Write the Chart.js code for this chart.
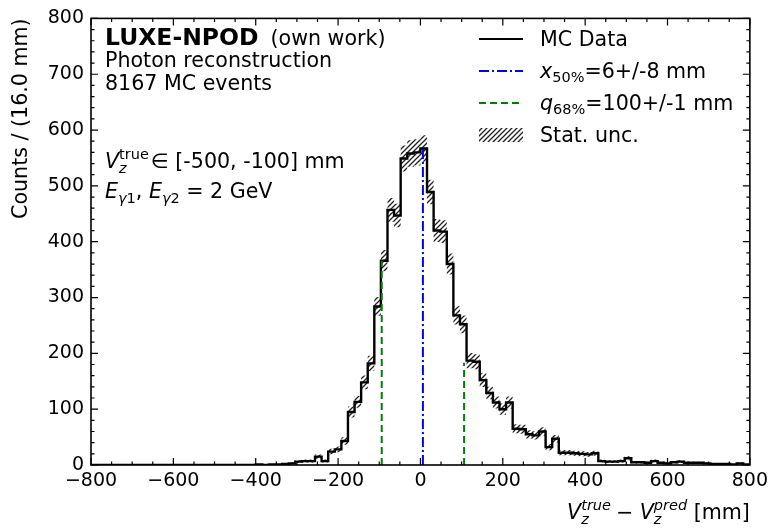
<!DOCTYPE html>
<html>
<head>
<meta charset="utf-8">
<script src="https://cdn.jsdelivr.net/npm/chart.js@4.4.1/dist/chart.umd.min.js"></script>
<style>
  html, body { margin: 0; padding: 0; background: #fff; }
  #wrap { width: 773px; height: 531px; position: relative; }
</style>
</head>
<body>
<div id="wrap"><canvas id="c"></canvas></div>
<script>
// ---------------- data ----------------
const binWidth = 16;          // mm
const xRange = [-800, 800];
const yRange = [0, 800];
const xTickValues = [-800, -600, -400, -200, 0, 200, 400, 600, 800];
const yTickValues = [0, 100, 200, 300, 400, 500, 600, 700, 800];
// counts per 16 mm bin, from -800 mm to +800 mm (100 bins)
const counts = [
  0,0,0,0,0,0,0,0,0,0,
  0,0,0,0,0,0,0,0,0,0,
  0,0,0,0,0,1,0,1,1,2,
  3,6,7,7,15,7,24,28,43,95,
  113,148,182,284,366,457,447,549,558,560,
  567,489,420,418,360,268,252,187,185,152,
  129,112,100,112,65,64,55,53,60,32,
  47,22,22,21,20,19,21,7,6,6,
  7,12,5,5,4,7,4,3,5,6,
  4,4,4,3,2,2,2,1,3,1
];
const x50 = 6;            // median
const x50Height = 567;
const q68Lo = -94, q68LoHeight = 366;
const q68Hi = 106, q68HiHeight = 183;
const legendLabels = ["MC Data", "=6+/-8 mm", "=100+/-1 mm", "Stat. unc."];

// ---------------- build ----------------
const nb = counts.length;
const edges = [];
for (let i = 0; i <= nb; i++) edges.push(xRange[0] + binWidth * i);
const histPts = [{x: edges[0], y: 0}];
const upPts = [], loPts = [];
for (let i = 0; i < nb; i++) {
  histPts.push({x: edges[i], y: counts[i]});
  const e = Math.sqrt(counts[i]);
  upPts.push({x: edges[i], y: counts[i] + e});
  loPts.push({x: edges[i], y: counts[i] - e});
}
histPts.push({x: edges[nb], y: counts[nb-1]});
histPts.push({x: edges[nb], y: 0});
upPts.push({x: edges[nb], y: counts[nb-1] + Math.sqrt(counts[nb-1])});
loPts.push({x: edges[nb], y: counts[nb-1] - Math.sqrt(counts[nb-1])});

function makeHatch(color) {
  const s = 5;
  const c = document.createElement('canvas');
  c.width = s; c.height = s;
  const g = c.getContext('2d');
  g.strokeStyle = color; g.lineWidth = 1.3; g.lineCap = 'square';
  g.beginPath();
  g.moveTo(0, s); g.lineTo(s, 0);
  g.moveTo(-1, 1); g.lineTo(1, -1);
  g.moveTo(s - 1, s + 1); g.lineTo(s + 1, s - 1);
  g.stroke();
  return g.createPattern(c, 'repeat');
}
const hatch = makeHatch('#222');

const FONT = '"DejaVu Sans", "Liberation Sans", sans-serif';

function richWidth(ctx, parts) {
  let w = 0;
  for (const p of parts) {
    if (p.stack) {
      ctx.font = p.stack[0].font; const a = ctx.measureText(p.stack[0].t).width;
      ctx.font = p.stack[1].font; const b = ctx.measureText(p.stack[1].t).width;
      w += Math.max(a, b) + (p.pad || 0);
    } else {
      ctx.font = p.font; w += ctx.measureText(p.t).width + (p.pad || 0) + (p.pre || 0);
    }
  }
  return w;
}
function drawRich(ctx, x, y, parts) {
  ctx.textBaseline = 'alphabetic'; ctx.textAlign = 'left';
  for (const p of parts) {
    if (p.stack) {
      let mw = 0;
      for (const s of p.stack) {
        ctx.font = s.font; ctx.fillText(s.t, x, y + s.dy);
        mw = Math.max(mw, ctx.measureText(s.t).width);
      }
      x += mw + (p.pad || 0);
    } else {
      ctx.font = p.font; ctx.fillText(p.t, x + (p.pre || 0), y + (p.dy || 0));
      x += ctx.measureText(p.t).width + (p.pad || 0) + (p.pre || 0);
    }
  }
  return x;
}

const decor = {
  id: 'decor',
  afterDraw(chart) {
    const ctx = chart.ctx;
    const a = chart.chartArea;
    const xs = chart.scales.x, ys = chart.scales.y;
    ctx.save();
    // frame
    ctx.strokeStyle = '#000'; ctx.lineWidth = 1.6;
    ctx.strokeRect(a.left, a.top, a.right - a.left, a.bottom - a.top);
    // ticks (inward, all sides)
    ctx.lineWidth = 1.2;
    ctx.beginPath();
    for (let v = xRange[0]; v <= xRange[1]; v += 50) {
      const px = xs.getPixelForValue(v);
      const len = (v % 200 === 0) ? 7 : 3.5;
      ctx.moveTo(px, a.bottom); ctx.lineTo(px, a.bottom - len);
      ctx.moveTo(px, a.top); ctx.lineTo(px, a.top + len);
    }
    for (let v = yRange[0]; v <= yRange[1]; v += 20) {
      const py = ys.getPixelForValue(v);
      const len = (v % 100 === 0) ? 7 : 3.5;
      ctx.moveTo(a.left, py); ctx.lineTo(a.left + len, py);
      ctx.moveTo(a.right, py); ctx.lineTo(a.right - len, py);
    }
    ctx.stroke();

    ctx.fillStyle = '#000';
    const R = 20.6, S = 14.5;
    const it = 'italic ' + R + 'px ' + FONT, rm = R + 'px ' + FONT;
    const its = 'italic ' + S + 'px ' + FONT, rms = S + 'px ' + FONT;
    const tx = a.left + 14;
    // experiment label
    ctx.font = 'bold 23.5px ' + FONT; ctx.textAlign = 'left'; ctx.textBaseline = 'alphabetic';
    ctx.fillText('LUXE-NPOD', tx, a.top + 27);
    const wb = ctx.measureText('LUXE-NPOD').width;
    ctx.font = rm; ctx.fillText('(own work)', tx + wb + 12, a.top + 27);
    ctx.fillText('Photon reconstruction', tx, a.top + 49);
    ctx.fillText('8167 MC events', tx, a.top + 72);
    drawRich(ctx, tx, a.top + 150, [
      {t: 'V', font: it},
      {stack: [{t: 'z', font: its, dy: 5}, {t: 'true', font: rms, dy: -9}], pad: 2},
      {t: '\u2208 [-500, -100] mm', font: rm}
    ]);
    drawRich(ctx, tx, a.top + 180, [
      {t: 'E', font: it},
      {t: '\u03b3', font: its, dy: 5}, {t: '1', font: rms, dy: 5},
      {t: ', ', font: rm},
      {t: 'E', font: it},
      {t: '\u03b3', font: its, dy: 5}, {t: '2', font: rms, dy: 5},
      {t: ' = 2 GeV', font: rm}
    ]);

    // legend
    const hx0 = 479, hx1 = 523, lx = 540;
    const rows = [39, 71, 103, 135];
    ctx.lineWidth = 2;
    ctx.strokeStyle = '#000'; ctx.setLineDash([]);
    ctx.beginPath(); ctx.moveTo(hx0, rows[0]); ctx.lineTo(hx1, rows[0]); ctx.stroke();
    ctx.strokeStyle = '#0000ff'; ctx.setLineDash([10, 3, 2, 3]);
    ctx.beginPath(); ctx.moveTo(hx0, rows[1]); ctx.lineTo(hx1, rows[1]); ctx.stroke();
    ctx.strokeStyle = '#008000'; ctx.setLineDash([7, 4]);
    ctx.beginPath(); ctx.moveTo(hx0, rows[2]); ctx.lineTo(hx1, rows[2]); ctx.stroke();
    ctx.setLineDash([]);
    ctx.fillStyle = hatch; ctx.fillRect(hx0, rows[3] - 7, hx1 - hx0, 14);
    ctx.fillStyle = '#000';
    const lb = 7;
    ctx.font = rm; ctx.fillText(legendLabels[0], lx, rows[0] + lb);
    drawRich(ctx, lx, rows[1] + lb, [{t: 'x', font: it}, {t: '50%', font: rms, dy: 4}, {t: legendLabels[1], font: rm}]);
    drawRich(ctx, lx, rows[2] + lb, [{t: 'q', font: it}, {t: '68%', font: rms, dy: 4}, {t: legendLabels[2], font: rm}]);
    ctx.font = rm; ctx.fillText(legendLabels[3], lx, rows[3] + lb);

    // axis titles
    const xl = [
      {t: 'V', font: it},
      {stack: [{t: 'z', font: its, dy: 5}, {t: 'true', font: its, dy: -9}], pad: 3},
      {t: '\u2212 ', font: rm, pre: 2},
      {t: 'V', font: it},
      {stack: [{t: 'z', font: its, dy: 5}, {t: 'pred', font: its, dy: -9}]},
      {t: ' [mm]', font: rm}
    ];
    const w = richWidth(ctx, xl);
    drawRich(ctx, a.right - w, 519, xl);

    ctx.save();
    ctx.translate(27, a.top);
    ctx.rotate(-Math.PI / 2);
    ctx.font = rm; ctx.textAlign = 'right'; ctx.textBaseline = 'alphabetic';
    ctx.fillText('Counts / (16.0 mm)', 0, 0);
    ctx.restore();
    ctx.restore();
  }
};

new Chart(document.getElementById('c'), {
  type: 'line',
  data: {
    datasets: [
      {data: loPts, stepped: true, borderWidth: 0, borderColor: 'rgba(0,0,0,0)', pointRadius: 0, fill: false, order: 5},
      {data: upPts, stepped: true, borderWidth: 0, borderColor: 'rgba(0,0,0,0)', pointRadius: 0, fill: '-1', backgroundColor: hatch, order: 4},
      {data: histPts, stepped: true, borderWidth: 2.4, borderColor: '#000', pointRadius: 0, fill: false, order: 3},
      {data: [{x: x50, y: 0}, {x: x50, y: x50Height}], borderColor: '#0000ff', borderWidth: 2, borderDash: [10, 3, 2, 3], pointRadius: 0, fill: false, order: 2},
      {data: [{x: q68Lo, y: 0}, {x: q68Lo, y: q68LoHeight}], borderColor: '#008000', borderWidth: 2, borderDash: [7, 4], pointRadius: 0, fill: false, order: 1},
      {data: [{x: q68Hi, y: 0}, {x: q68Hi, y: q68HiHeight}], borderColor: '#008000', borderWidth: 2, borderDash: [7, 4], pointRadius: 0, fill: false, order: 1}
    ]
  },
  options: {
    responsive: true,
    maintainAspectRatio: false,
    animation: false,
    events: [],
    layout: {padding: {top: 12, right: 19, left: 0, bottom: 0}},
    plugins: {legend: {display: false}, tooltip: {enabled: false}},
    scales: {
      x: {
        type: 'linear', min: xRange[0], max: xRange[1],
        afterBuildTicks: (s) => { s.ticks = xTickValues.map(v => ({value: v})); },
        afterFit: (s) => { s.height = 66; },
        grid: {display: false, drawTicks: false}, border: {display: false},
        ticks: {
          font: {family: FONT, size: 19}, color: '#000', padding: 5, maxRotation: 0, autoSkip: false,
          callback: (v) => String(v).replace('-', '\u2212')
        }
      },
      y: {
        type: 'linear', min: yRange[0], max: yRange[1],
        afterBuildTicks: (s) => { s.ticks = yTickValues.map(v => ({value: v})); },
        afterFit: (s) => { s.width = 91; },
        grid: {display: false, drawTicks: false}, border: {display: false},
        ticks: {font: {family: FONT, size: 19}, color: '#000', padding: 7, autoSkip: false}
      }
    }
  },
  plugins: [decor]
});
</script>
</body>
</html>
